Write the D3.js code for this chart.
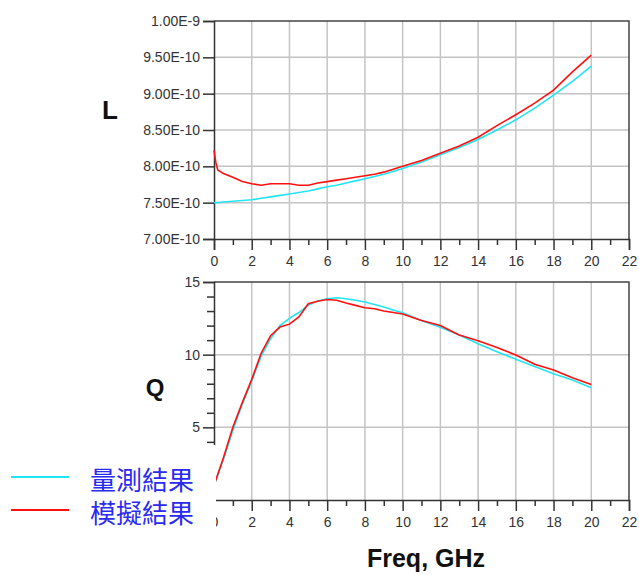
<!DOCTYPE html>
<html lang="zh-Hant">
<head>
<meta charset="UTF-8">
<title>L and Q vs Freq</title>
<script src="https://d3js.org/d3.v7.min.js"></script>
<style>
  body { margin: 0; background: #fff; }
  svg { display: block; }
  .tick text { font-family: "Liberation Sans", Arial, sans-serif; font-size: 14px; fill: #333; }
</style>
</head>
<body>
<div id="chart"></div>
<script>
// frequency points (GHz)
const freq = [0, 0.1, 0.2, 0.5, 1, 1.5, 2, 2.5, 3, 3.5, 4, 4.5, 5, 5.5, 6, 6.5, 7, 7.5, 8, 8.5, 9, 9.5,
              10, 11, 12, 13, 14, 15, 16, 17, 18, 19, 20];

// inductance, units of 1e-10 H
const lMeasured = [7.50, 7.50, 7.50, 7.51, 7.52, 7.53, 7.54, 7.56, 7.58, 7.60, 7.62, 7.64, 7.66, 7.69, 7.72, 7.74,
                   7.77, 7.80, 7.83, 7.86, 7.89, 7.93, 7.97, 8.06, 8.16, 8.26, 8.37, 8.50, 8.64, 8.80, 8.98, 9.17, 9.38];
const lSimulated = [8.22, 8.05, 7.95, 7.90, 7.85, 7.79, 7.76, 7.74, 7.76, 7.76, 7.76, 7.74, 7.74, 7.77, 7.79, 7.81,
                    7.83, 7.85, 7.87, 7.89, 7.92, 7.96, 8.00, 8.08, 8.18, 8.28, 8.40, 8.56, 8.71, 8.87, 9.05, 9.30, 9.53];

// quality factor
const qFreq = [0, 0.5, 1, 1.5, 2, 2.5, 3, 3.5, 4, 4.5, 5, 5.5, 6, 6.5, 7, 7.5, 8, 8.5, 9, 9.5,
               10, 11, 12, 13, 14, 15, 16, 17, 18, 19, 20];
const qMeasured = [1.0, 2.8, 4.8, 6.6, 8.2, 9.9, 11.1, 12.0, 12.5, 12.9, 13.4, 13.7, 13.85, 13.92, 13.85, 13.75,
                   13.62, 13.45, 13.28, 13.08, 12.88, 12.35, 11.89, 11.35, 10.75, 10.2, 9.69, 9.18, 8.69, 8.25, 7.72];
const qSimulated = [1.0, 2.9, 5.0, 6.7, 8.3, 10.1, 11.3, 11.9, 12.1, 12.6, 13.5, 13.67, 13.8, 13.74, 13.55, 13.39,
                    13.23, 13.16, 13.0, 12.9, 12.8, 12.35, 12.0, 11.35, 10.96, 10.5, 9.97, 9.34, 8.94, 8.42, 7.95];

const xTicks = d3.range(0, 23, 2);
const lTicks = [7.0, 7.5, 8.0, 8.5, 9.0, 9.5, 10.0];
const lTickLabels = ["7.00E-10", "7.50E-10", "8.00E-10", "8.50E-10", "9.00E-10", "9.50E-10", "1.00E-9"];
const qTicks = [5, 10, 15];

const legendNames = ["量測結果", "模擬結果"];
const colors = ["#22e4f2", "#ff1010"];

const W = 639, H = 575;
const svg = d3.select("#chart").append("svg").attr("width", W).attr("height", H);

const x = d3.scaleLinear().domain([0, 22]).range([214, 629]);

function panel(yScale, ticks, tickFmt, minorY, series) {
  const [y0, y1] = yScale.range();
  const g = svg.append("g");

  // grid
  g.append("g").selectAll("line").data(xTicks.slice(1, -1)).join("line")
    .attr("x1", d => x(d)).attr("x2", d => x(d))
    .attr("y1", y1).attr("y2", y0)
    .attr("stroke", "#c4c4c4").attr("stroke-width", 1.5);
  g.append("g").selectAll("line").data(ticks.filter(t => t > yScale.domain()[0] && t < yScale.domain()[1])).join("line")
    .attr("x1", x(0)).attr("x2", x(22))
    .attr("y1", d => yScale(d)).attr("y2", d => yScale(d))
    .attr("stroke", "#c4c4c4").attr("stroke-width", 1.5);

  // frame top/right
  g.append("path")
    .attr("d", `M${x(0)},${y1}H${x(22)}V${y0}`)
    .attr("fill", "none").attr("stroke", "#444").attr("stroke-width", 1.5);

  // bottom axis
  g.append("g").attr("transform", `translate(0,${y0})`)
    .call(d3.axisBottom(x).tickValues(xTicks).tickSize(11).tickPadding(6).tickFormat(d3.format("d")));
  g.append("g").attr("transform", `translate(0,${y0})`)
    .call(d3.axisBottom(x).tickValues(d3.range(1, 22, 2)).tickSize(6).tickFormat(""))
    .call(a => a.select(".domain").remove());

  // left axis
  g.append("g").attr("transform", `translate(${x(0)},0)`)
    .call(d3.axisLeft(yScale).tickValues(ticks).tickSize(11).tickPadding(3).tickFormat(tickFmt));
  if (minorY) {
    g.append("g").attr("transform", `translate(${x(0)},0)`)
      .call(d3.axisLeft(yScale).tickValues(minorY).tickSize(7).tickFormat(""))
      .call(a => a.select(".domain").remove());
  }
  g.selectAll(".domain, .tick line").attr("stroke", "#333").attr("stroke-width", 1.5);

  // curves
  series.forEach((s, i) => {
    g.append("path")
      .datum(s.xs.map((f, k) => [f, s.ys[k]]))
      .attr("fill", "none")
      .attr("stroke", colors[i])
      .attr("stroke-width", 1.6)
      .attr("d", d3.line().x(d => x(d[0])).y(d => yScale(d[1])));
  });
}

const yL = d3.scaleLinear().domain([7.0, 10.0]).range([239, 21]);
panel(yL, lTicks, d => lTickLabels[lTicks.indexOf(d)], null, [
  { xs: freq, ys: lMeasured },
  { xs: freq, ys: lSimulated }
]);

const yQ = d3.scaleLinear().domain([0, 15]).range([500, 282]);
panel(yQ, qTicks, d3.format("d"), [1, 2, 3, 4, 6, 7, 8, 9, 11, 12, 13, 14], [
  { xs: qFreq, ys: qMeasured },
  { xs: qFreq, ys: qSimulated }
]);

// panel labels
const bold = "'Liberation Sans', Arial, sans-serif";
svg.append("text").attr("x", 110).attr("y", 119).attr("text-anchor", "middle")
  .attr("font-family", bold).attr("font-weight", "bold").attr("font-size", 26).attr("fill", "#111").text("L");
svg.append("text").attr("x", 155).attr("y", 396).attr("text-anchor", "middle")
  .attr("font-family", bold).attr("font-weight", "bold").attr("font-size", 24).attr("fill", "#111").text("Q");
svg.append("text").attr("x", 426).attr("y", 567).attr("text-anchor", "middle")
  .attr("font-family", bold).attr("font-weight", "bold").attr("font-size", 25).attr("fill", "#111").text("Freq, GHz");

// legend (white box covers the lower-left corner of the Q plot)
const leg = svg.append("g");
leg.append("rect").attr("x", 0).attr("y", 445).attr("width", 216).attr("height", 130).attr("fill", "#fff");
legendNames.forEach((name, i) => {
  const yy = 477 + i * 33;
  leg.append("line").attr("x1", 11).attr("x2", 69).attr("y1", yy).attr("y2", yy)
    .attr("stroke", colors[i]).attr("stroke-width", 2);
  leg.append("text").attr("x", 90).attr("y", yy + 13)
    .attr("font-family", "'Noto Sans CJK TC', 'Noto Sans CJK SC', sans-serif")
    .attr("font-size", 26).attr("fill", "#2b2bf0").text(name);
});
</script>
</body>
</html>
